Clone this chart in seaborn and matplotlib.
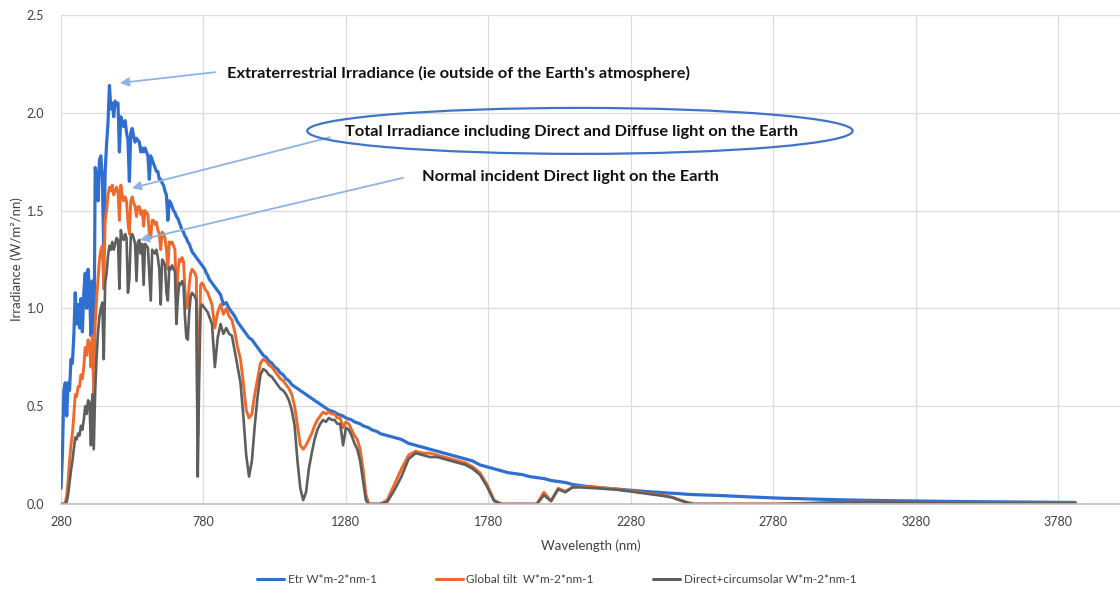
import matplotlib
matplotlib.use("Agg")
import matplotlib.pyplot as plt
from matplotlib.patches import Ellipse
from matplotlib.lines import Line2D
import seaborn as sns

# wavelength grid (nm)
wavelength = [
    280, 285, 290, 295, 300, 305, 310, 315, 320, 325, 330, 335, 340, 345, 350, 355, 360, 365, 370, 375, 380, 385, 390, 395, 400,
    405, 410, 415, 420, 425, 430, 435, 440, 445, 450, 455, 460, 465, 470, 475, 480, 485, 490, 495, 500,
    505, 510, 515, 520, 525, 530, 535, 540, 545, 550, 555, 560, 565, 570, 575, 580, 585, 590, 595, 600,
    605, 610, 615, 620, 625, 630, 635, 640, 645, 650, 655, 660, 665, 670, 675, 680, 685, 690, 695, 700,
    705, 710, 715, 720, 725, 730, 735, 740, 745, 750, 755, 760, 765, 770, 775, 780, 785, 790, 795, 800,
    810, 820, 830, 840, 850, 860, 870, 880, 890, 900, 910, 920, 930, 940, 950, 960, 970, 980, 990, 1000,
    1010, 1020, 1030, 1040, 1050, 1060, 1070, 1080, 1090, 1100, 1110, 1120, 1130, 1140, 1150, 1160, 1170, 1180, 1190, 1200,
    1210, 1220, 1230, 1240, 1250, 1260, 1270, 1280, 1290, 1300, 1310, 1320, 1330, 1340, 1350, 1360, 1370, 1380, 1390, 1400,
    1425, 1450, 1475, 1500, 1525, 1550, 1575, 1600, 1625, 1650, 1675, 1700, 1725, 1750, 1775, 1800, 1825, 1850, 1875, 1900,
    1925, 1950, 1975, 2000, 2025, 2050, 2075, 2100, 2125, 2150, 2175, 2200, 2225, 2250, 2275, 2300, 2325, 2350, 2375, 2400,
    2425, 2450, 2475, 2500,
    2600, 2700, 2800, 2900, 3000, 3100, 3200, 3300, 3400, 3500, 3600, 3700, 3800, 3840,
]

etr = [
    0.08, 0.25, 0.58, 0.62, 0.45, 0.62, 0.58, 0.74, 0.72, 0.86, 1.08, 0.92, 1.02, 0.90, 1.05, 0.88, 1.08, 1.18, 1.00, 1.20, 1.10, 0.86, 1.14, 0.60, 1.72,
    1.68, 1.55, 1.76, 1.78, 1.66, 1.30, 1.70, 1.84, 1.95, 2.14, 2.02, 2.05, 1.98, 2.06, 2.04, 2.05, 1.80, 1.98, 1.95, 1.93,
    1.96, 1.90, 1.86, 1.65, 1.90, 1.92, 1.88, 1.85, 1.87, 1.86, 1.85, 1.80, 1.82, 1.80, 1.82, 1.80, 1.78, 1.66, 1.78, 1.76,
    1.74, 1.72, 1.70, 1.70, 1.66, 1.66, 1.64, 1.63, 1.60, 1.58, 1.45, 1.55, 1.54, 1.52, 1.50, 1.49, 1.47, 1.46, 1.44, 1.42,
    1.40, 1.39, 1.37, 1.36, 1.34, 1.33, 1.31, 1.29, 1.28, 1.27, 1.26, 1.25, 1.24, 1.23, 1.22, 1.21, 1.20, 1.18, 1.17, 1.15,
    1.13, 1.11, 1.09, 1.07, 1.02, 1.03, 1.00, 0.98, 0.96, 0.93, 0.91, 0.89, 0.87, 0.85, 0.84, 0.82, 0.80, 0.78, 0.76, 0.75,
    0.73, 0.72, 0.70, 0.69, 0.67, 0.66, 0.64, 0.63, 0.61, 0.60, 0.59, 0.58, 0.57, 0.56, 0.55, 0.54, 0.53, 0.52, 0.51, 0.50,
    0.49, 0.48, 0.475, 0.47, 0.46, 0.455, 0.45, 0.44, 0.435, 0.43, 0.42, 0.415, 0.41, 0.40, 0.395, 0.39, 0.38, 0.375, 0.37, 0.36,
    0.35, 0.34, 0.33, 0.31, 0.30, 0.29, 0.28, 0.27, 0.26, 0.25, 0.24, 0.23, 0.22, 0.20, 0.19, 0.18, 0.17, 0.16, 0.155, 0.15,
    0.14, 0.135, 0.13, 0.12, 0.115, 0.11, 0.10, 0.095, 0.09, 0.087, 0.083, 0.08, 0.077, 0.074, 0.071, 0.068, 0.065, 0.062, 0.06, 0.057,
    0.055, 0.053, 0.05, 0.048,
    0.043, 0.036, 0.03, 0.026, 0.022, 0.019, 0.017, 0.015, 0.013, 0.012, 0.011, 0.0095, 0.0085, 0.008,
]

global_tilt = [
    0.0, 0.0, 0.0, 0.01, 0.04, 0.12, 0.22, 0.30, 0.36, 0.45, 0.56, 0.55, 0.60, 0.60, 0.66, 0.64, 0.70, 0.80, 0.76, 0.84, 0.82, 0.70, 0.86, 0.55, 0.92,
    1.05, 1.15, 1.25, 1.30, 1.32, 1.10, 1.45, 1.50, 1.58, 1.62, 1.60, 1.63, 1.58, 1.60, 1.62, 1.60, 1.45, 1.63, 1.58, 1.55,
    1.57, 1.55, 1.44, 1.38, 1.55, 1.57, 1.54, 1.52, 1.47, 1.52, 1.52, 1.48, 1.50, 1.42, 1.50, 1.49, 1.48, 1.38, 1.36, 1.45,
    1.45, 1.43, 1.44, 1.40, 1.38, 1.30, 1.39, 1.38, 1.36, 1.30, 1.20, 1.34, 1.33, 1.34, 1.32, 1.30, 1.05, 1.18, 1.25, 1.24,
    1.26, 1.24, 1.10, 1.00, 1.02, 1.12, 1.18, 1.20, 1.19, 1.18, 1.16, 0.35, 0.80, 1.12, 1.13, 1.12, 1.10, 1.09, 1.08, 1.06,
    1.02, 0.90, 0.98, 1.02, 0.97, 1.00, 0.96, 0.94, 0.88, 0.80, 0.74, 0.62, 0.48, 0.44, 0.46, 0.56, 0.64, 0.72, 0.74, 0.73,
    0.71, 0.70, 0.68, 0.66, 0.64, 0.63, 0.61, 0.59, 0.56, 0.50, 0.40, 0.30, 0.28, 0.30, 0.33, 0.36, 0.40, 0.43, 0.45, 0.47,
    0.46, 0.47, 0.46, 0.46, 0.44, 0.44, 0.39, 0.42, 0.41, 0.38, 0.35, 0.33, 0.28, 0.18, 0.05, 0.0, 0.0, 0.0, 0.0, 0.0,
    0.02, 0.10, 0.18, 0.25, 0.27, 0.26, 0.26, 0.25, 0.24, 0.23, 0.22, 0.21, 0.19, 0.16, 0.10, 0.02, 0.0, 0.0, 0.0, 0.0,
    0.0, 0.0, 0.06, 0.015, 0.08, 0.065, 0.085, 0.09, 0.088, 0.085, 0.083, 0.08, 0.078, 0.072, 0.068, 0.063, 0.058, 0.052, 0.048, 0.042,
    0.035, 0.022, 0.01, 0.0,
    0.0, 0.0, 0.0, 0.004, 0.008, 0.01, 0.009, 0.008, 0.007, 0.007, 0.006, 0.006, 0.005, 0.005,
]

direct_circumsolar = [
    0.0, 0.0, 0.0, 0.0, 0.01, 0.05, 0.11, 0.17, 0.22, 0.28, 0.34, 0.33, 0.36, 0.35, 0.40, 0.38, 0.43, 0.50, 0.46, 0.53, 0.52, 0.30, 0.56, 0.28, 0.58,
    0.75, 0.88, 0.96, 1.00, 1.03, 0.74, 1.13, 1.18, 1.27, 1.32, 1.30, 1.34, 1.30, 1.33, 1.36, 1.35, 1.10, 1.40, 1.36, 1.35,
    1.38, 1.36, 1.08, 1.15, 1.37, 1.38, 1.36, 1.33, 1.14, 1.34, 1.35, 1.28, 1.33, 1.12, 1.33, 1.32, 1.31, 1.18, 1.04, 1.30,
    1.29, 1.28, 1.30, 1.26, 1.20, 1.02, 1.25, 1.24, 1.22, 1.08, 1.04, 1.21, 1.20, 1.22, 1.20, 1.19, 0.92, 1.05, 1.13, 1.12,
    1.14, 1.12, 0.96, 0.85, 0.84, 0.98, 1.06, 1.08, 1.07, 1.06, 1.04, 0.14, 0.65, 1.00, 1.02, 1.01, 1.00, 0.99, 0.98, 0.96,
    0.92, 0.70, 0.85, 0.92, 0.87, 0.90, 0.87, 0.86, 0.78, 0.70, 0.62, 0.45, 0.25, 0.14, 0.22, 0.40, 0.55, 0.66, 0.69, 0.68,
    0.66, 0.65, 0.63, 0.61, 0.59, 0.58, 0.56, 0.53, 0.48, 0.40, 0.22, 0.08, 0.02, 0.06, 0.18, 0.26, 0.33, 0.38, 0.41, 0.43,
    0.42, 0.44, 0.43, 0.43, 0.41, 0.41, 0.30, 0.39, 0.38, 0.35, 0.31, 0.28, 0.22, 0.12, 0.02, 0.0, 0.0, 0.0, 0.0, 0.0,
    0.01, 0.07, 0.14, 0.23, 0.26, 0.25, 0.24, 0.24, 0.23, 0.22, 0.21, 0.20, 0.18, 0.15, 0.09, 0.015, 0.0, 0.0, 0.0, 0.0,
    0.0, 0.0, 0.045, 0.015, 0.075, 0.06, 0.085, 0.085, 0.083, 0.081, 0.079, 0.076, 0.074, 0.069, 0.065, 0.06, 0.055, 0.05, 0.045, 0.04,
    0.033, 0.02, 0.008, 0.0,
    0.0, 0.0, 0.0, 0.003, 0.007, 0.009, 0.008, 0.007, 0.006, 0.006, 0.005, 0.005, 0.004, 0.004,
]

series_names = ["Etr W*m-2*nm-1", "Global tilt  W*m-2*nm-1", "Direct+circumsolar W*m-2*nm-1"]
series_colors = ["#2F6FD0", "#EE6A2C", "#5E5E5E"]
x_ticks = [280, 780, 1280, 1780, 2280, 2780, 3280, 3780]
y_ticks = [0.0, 0.5, 1.0, 1.5, 2.0, 2.5]

assert len(wavelength) == len(etr) == len(global_tilt) == len(direct_circumsolar)

sns.set_theme(style="whitegrid")
plt.rcParams["font.family"] = ["Lato", "DejaVu Sans"]

fig = plt.figure(figsize=(11.2, 5.94), dpi=100)
ax = fig.add_axes([61 / 1120, 90 / 594, 1059 / 1120, 489 / 594])

for vals, name, col, lw in zip([etr, global_tilt, direct_circumsolar], series_names,
                               series_colors, [2.3, 2.1, 1.9]):
    sns.lineplot(x=wavelength, y=vals, ax=ax, color=col, linewidth=lw,
                 estimator=None, sort=False, label=name, legend=False)

ax.set_xlim(280, 3997)
ax.set_ylim(0, 2.5)
ax.set_xticks(x_ticks)
ax.set_yticks(y_ticks)
ax.set_yticklabels([f"{v:.1f}" for v in y_ticks])
ax.grid(True, color="#DCDCDC", linewidth=0.9)
for s in ["top", "right", "left"]:
    ax.spines[s].set_visible(False)
ax.spines["bottom"].set_color("#BFBFBF")
ax.spines["bottom"].set_linewidth(1.2)
ax.tick_params(axis="both", length=0, labelsize=9, colors="#404040")
ax.tick_params(axis="x", pad=9)
ax.tick_params(axis="y", pad=12)
ax.set_xlabel("Wavelength (nm)", fontsize=9.5, color="#404040", labelpad=8)
ax.set_ylabel("Irradiance (W/m²/nn)", fontsize=9.5, color="#404040", labelpad=3)

# annotations
arrow_kw = dict(arrowstyle="-|>", color="#8DB4E2", lw=1.3, mutation_scale=13,
                shrinkA=0, shrinkB=0)
txt_kw = dict(fontsize=11.8, fontweight="bold", color="#111111", va="center", ha="left")

ax.annotate("", xy=(0.0557, 0.861), xytext=(0.1454, 0.883),
            xycoords="axes fraction", arrowprops=arrow_kw)
ax.text(0.1567, 0.881, "Extraterrestrial Irradiance (ie outside of the Earth's atmosphere)",
        transform=ax.transAxes, **txt_kw)

ax.annotate("", xy=(0.067, 0.646), xytext=(0.254, 0.750),
            xycoords="axes fraction", arrowprops=arrow_kw)
ax.text(0.268, 0.761, "Total Irradiance including Direct and Diffuse light on the Earth",
        transform=ax.transAxes, **txt_kw)
ax.add_patch(Ellipse((0.490, 0.763), 0.515, 0.094, transform=ax.transAxes,
                     fill=False, edgecolor="#3F75C8", linewidth=1.6, zorder=5))

ax.annotate("", xy=(0.0746, 0.540), xytext=(0.323, 0.667),
            xycoords="axes fraction", arrowprops=arrow_kw)
ax.text(0.341, 0.669, "Normal incident Direct light on the Earth",
        transform=ax.transAxes, **txt_kw)

handles = [Line2D([0], [0], color=c, lw=2.2) for c in series_colors]
fig.legend(handles, series_names, loc="center", bbox_to_anchor=(0.497, 0.024),
           ncol=3, frameon=False, fontsize=8.5, handlelength=2.3,
           columnspacing=5.0, handletextpad=0.3, labelcolor="#404040")

fig.savefig("out.png", dpi=100)
plt.close(fig)
